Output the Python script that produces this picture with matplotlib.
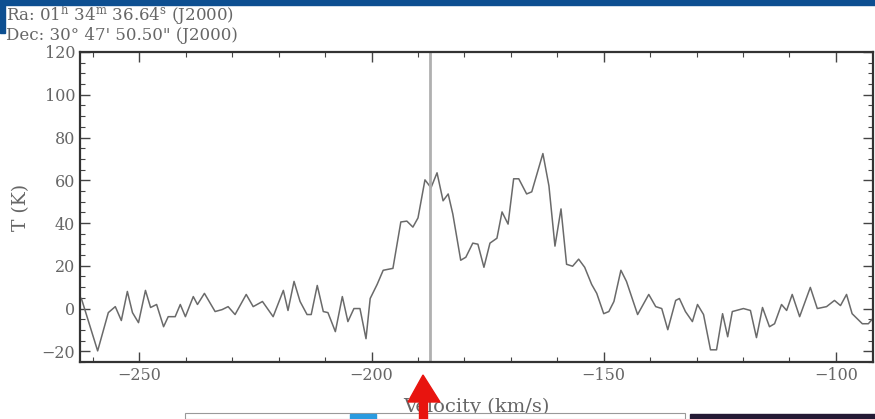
import matplotlib
matplotlib.use("Agg")
import matplotlib.pyplot as plt
import matplotlib.patches as patches
from matplotlib.ticker import MultipleLocator

# spectrum
velocity = [-262.5, -259.0, -256.7, -255.2, -253.9, -252.6, -251.5, -250.2, -248.7, -247.6,
            -246.3, -244.8, -243.8, -242.3, -241.2, -240.1, -238.4, -237.5, -236.0, -233.7,
            -232.2, -230.9, -229.4, -227.0, -225.5, -223.5, -221.2, -219.0, -218.0, -216.7,
            -215.4, -213.9, -213.0, -211.7, -210.4, -209.4, -207.8, -206.3, -205.1, -203.8,
            -202.5, -201.2, -200.3, -198.8, -197.5, -195.4, -193.7, -192.4, -191.1, -190.0,
            -188.5, -187.2, -185.9, -184.6, -183.5, -182.5, -180.8, -179.7, -178.2, -177.1,
            -175.8, -174.5, -173.0, -171.9, -170.6, -169.4, -168.3, -166.6, -165.5, -163.1,
            -161.8, -160.5, -159.2, -158.0, -156.7, -155.4, -154.1, -152.6, -151.5, -150.0,
            -148.9, -147.8, -146.3, -145.1, -142.7, -140.3, -138.8, -137.5, -136.2, -134.5,
            -133.7, -132.4, -130.9, -129.8, -128.5, -127.0, -125.7, -124.4, -123.3, -122.3,
            -119.9, -118.4, -117.1, -115.8, -114.3, -113.2, -111.7, -110.6, -109.4, -107.8,
            -105.5, -104.0, -102.0, -100.3, -99.0, -97.7, -96.5, -94.3, -93.0, -91.7]
temperature = [4.7, -19.8, -1.9, 0.9, -5.6, 8.0, -1.9, -6.6, 8.5, 0.5,
               1.9, -8.5, -3.8, -3.8, 1.9, -3.8, 5.6, 1.9, 7.1, -1.4,
               -0.5, 0.9, -2.8, 6.6, 0.9, 3.3, -3.8, 8.5, -0.9, 12.7,
               3.3, -2.8, -2.8, 10.8, -1.4, -1.9, -10.8, 5.6, -6.1, 0.0,
               0.0, -14.1, 4.7, 11.3, 17.9, 18.8, 40.5, 40.9, 38.1, 42.4,
               60.2, 56.5, 63.5, 50.4, 53.6, 44.2, 22.6, 24.0, 30.6, 30.1,
               19.3, 30.6, 32.9, 45.2, 39.5, 60.7, 60.7, 53.6, 54.6, 72.5,
               57.4, 29.2, 46.6, 20.7, 19.8, 23.1, 19.3, 11.3, 7.1, -2.4,
               -1.4, 3.3, 17.9, 12.7, -2.8, 6.6, 0.9, 0.0, -9.9, 3.8,
               4.7, -1.4, -6.1, 1.9, -2.8, -19.3, -19.3, -2.4, -13.2, -1.4,
               0.0, -0.9, -13.6, 0.5, -8.5, -7.1, 1.9, -0.9, 6.6, -3.8,
               9.9, 0.0, 0.9, 3.8, 1.4, 6.6, -2.4, -7.1, -7.1, -3.8]
marker_velocity = -187.5
ra_text = r"Ra: 01$^{\rm h}$ 34$^{\rm m}$ 36.64$^{\rm s}$ (J2000)"
dec_text = "Dec: 30\u00b0 47' 50.50\" (J2000)"

plt.rcParams['font.family'] = ['DejaVu Serif']
plt.rcParams['mathtext.fontset'] = 'dejavuserif'

fig = plt.figure(figsize=(8.75, 4.19), dpi=100)
ax = fig.add_axes([80/875, 57/419, 793/875, 310/419])

ax.plot(velocity, temperature, color='#6a6a6a', lw=1.1)
ax.axvline(marker_velocity, color='#b0b0b0', lw=2.0)

ax.set_xlim(-262.8, -92.0)
ax.set_ylim(-25, 120)
ax.xaxis.set_major_locator(MultipleLocator(50))
ax.xaxis.set_minor_locator(MultipleLocator(10))
ax.yaxis.set_major_locator(MultipleLocator(20))
ax.yaxis.set_minor_locator(MultipleLocator(5))
ax.tick_params(which='both', direction='in', top=True, right=True,
               color='#444444', labelcolor='#666666', labelsize=11.5)
ax.tick_params(which='major', length=7, width=1.0)
ax.tick_params(which='minor', length=3.5, width=0.8)
for s in ax.spines.values():
    s.set_linewidth(1.6)
    s.set_color('#333333')

ax.set_xlabel('Velocity (km/s)', color='#666666', fontsize=14, labelpad=10)
ax.set_ylabel('T (K)', color='#666666', fontsize=13.5, labelpad=8)

fig.text(6/875, 1 - 21/419, ra_text, color='#666666', fontsize=12)
fig.text(6/875, 1 - 40/419, dec_text, color='#666666', fontsize=12)

# blue banner strip from the page above
fig.patches.append(patches.Rectangle((0, 1 - 5/419), 1, 5/419, transform=fig.transFigure,
                                     color='#0d4f91', zorder=5))
fig.patches.append(patches.Rectangle((0, 1 - 33/419), 5/875, 33/419, transform=fig.transFigure,
                                     color='#0d4f91', zorder=5))

# page elements along the bottom edge
fig.patches.append(patches.Rectangle((185/875, 0), 500/875, 6/419, transform=fig.transFigure,
                                     facecolor='white', edgecolor='#999999', lw=0.8, zorder=5))
fig.patches.append(patches.Rectangle((350/875, 0), 26/875, 5/419, transform=fig.transFigure,
                                     color='#2a9be0', zorder=5))
fig.patches.append(patches.Rectangle((690/875, 0), 185/875, 5/419, transform=fig.transFigure,
                                     color='#241a35', zorder=5))

# red arrow overlay
fig.patches.append(patches.Polygon([(408/875, 1 - 402/419), (423/875, 1 - 375/419),
                                    (440/875, 1 - 402/419)], closed=True,
                                   transform=fig.transFigure, color='#e8140f', zorder=6))
fig.patches.append(patches.Rectangle((419/875, 0), 8/875, 20/419, transform=fig.transFigure,
                                     color='#e8140f', zorder=6))

fig.savefig('out.png', dpi=100)
